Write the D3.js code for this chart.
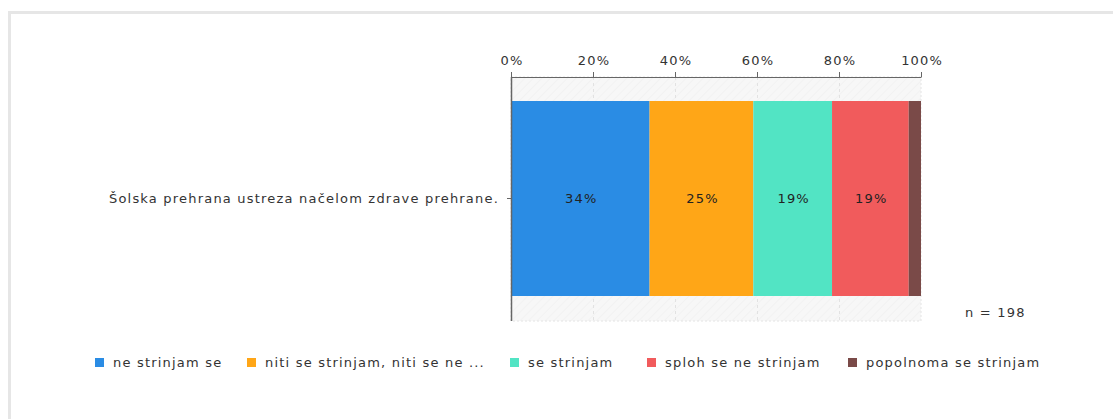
<!DOCTYPE html>
<html>
<head>
<meta charset="utf-8">
<script src="https://cdn.jsdelivr.net/npm/d3@7"></script>
<style>
  body { margin: 0; background: #fff; }
  svg text { font-family: "DejaVu Sans", Verdana, sans-serif; letter-spacing: 1.2px; }
</style>
</head>
<body>
<svg id="chart"></svg>
<script>
// chart data
const question = "Šolska prehrana ustreza načelom zdrave prehrane.";
const categories = ["ne strinjam se", "niti se strinjam, niti se ne ...", "se strinjam", "sploh se ne strinjam", "popolnoma se strinjam"];
const values = [33.8, 25.3, 19.2, 18.7, 3.0]; // percent of n
const barLabels = ["34%", "25%", "19%", "19%", ""];
const colors = ["#2a8ce4", "#ffa617", "#52e4c4", "#f15b5c", "#7a4a48"];
const tickValues = [0, 20, 40, 60, 80, 100];
const nLabel = "n = 198";

const W = 1113, H = 419;
const FS = 13;
const svg = d3.select("#chart").attr("width", W).attr("height", H);

// outer frame (only top and left are visible)
svg.append("rect")
  .attr("x", 9.5).attr("y", 12.5)
  .attr("width", W + 20).attr("height", H + 20)
  .attr("fill", "none")
  .attr("stroke", "#e6e6e6")
  .attr("stroke-width", 3);

const plot = { left: 511, right: 921, top: 77, bottom: 321 };
const barTop = 101, barBottom = 296;

// hatch pattern for plot background
const defs = svg.append("defs");
const pat = defs.append("pattern")
  .attr("id", "hatch")
  .attr("width", 6).attr("height", 6)
  .attr("patternUnits", "userSpaceOnUse")
  .attr("patternTransform", "rotate(45)");
pat.append("rect").attr("width", 6).attr("height", 6).attr("fill", "#f7f7f7");
pat.append("line").attr("x1", 0).attr("y1", 0).attr("x2", 0).attr("y2", 6)
  .attr("stroke", "#eeeeee").attr("stroke-width", 1);

const x = d3.scaleLinear().domain([0, 100]).range([plot.left, plot.right]);
const y = d3.scaleBand().domain([question]).range([barTop, barBottom]);

svg.append("rect")
  .attr("x", plot.left).attr("y", plot.top)
  .attr("width", plot.right - plot.left).attr("height", plot.bottom - plot.top)
  .attr("fill", "url(#hatch)")
  .attr("stroke", "#e4e4e4")
  .attr("stroke-dasharray", "2,2");

// grid lines
svg.append("g").selectAll("line")
  .data(tickValues.slice(1, -1))
  .enter().append("line")
  .attr("x1", d => x(d) + 0.5).attr("x2", d => x(d) + 0.5)
  .attr("y1", plot.top).attr("y2", plot.bottom)
  .attr("stroke", "#e2e2e2")
  .attr("stroke-dasharray", "3,3");

// stacked segments
let acc = 0;
const segs = values.map((v, i) => {
  const s = { start: acc, end: acc + v, value: v, color: colors[i], label: barLabels[i] };
  acc += v;
  return s;
});

svg.append("g").selectAll("rect")
  .data(segs)
  .enter().append("rect")
  .attr("x", d => x(d.start))
  .attr("y", y(question))
  .attr("width", d => x(d.end) - x(d.start))
  .attr("height", y.bandwidth())
  .attr("fill", d => d.color);

svg.append("g").selectAll("text")
  .data(segs.filter(d => d.label))
  .enter().append("text")
  .attr("x", d => (x(d.start) + x(d.end)) / 2 + 1)
  .attr("y", y(question) + y.bandwidth() / 2)
  .attr("dy", "0.35em")
  .attr("text-anchor", "middle")
  .attr("font-size", FS)
  .attr("fill", "#222")
  .text(d => d.label);

// top axis
const xAxis = svg.append("g")
  .attr("transform", `translate(0,${plot.top})`)
  .call(d3.axisTop(x).tickValues(tickValues).tickFormat(d => d + "%").tickSize(5).tickSizeOuter(0));
xAxis.select(".domain").attr("stroke", "#666");
xAxis.selectAll(".tick line").attr("stroke", "#666");
xAxis.selectAll(".tick text")
  .attr("font-family", "DejaVu Sans, sans-serif")
  .attr("font-size", FS)
  .attr("fill", "#333")
  .attr("dx", "0.6")
  .attr("dy", "-0.3em");

// left axis
const yAxis = svg.append("g")
  .attr("transform", `translate(${plot.left},0)`)
  .call(d3.axisLeft(y).tickSize(4).tickSizeOuter(0));
yAxis.select(".domain").attr("stroke", "none");
yAxis.selectAll(".tick line").attr("stroke", "#666");
yAxis.selectAll(".tick text")
  .attr("font-family", "DejaVu Sans, sans-serif")
  .attr("font-size", FS)
  .attr("fill", "#333")
  .attr("x", -12);
svg.append("line")
  .attr("x1", plot.left + 0.5).attr("x2", plot.left + 0.5)
  .attr("y1", plot.top).attr("y2", plot.bottom)
  .attr("stroke", "#666").attr("stroke-width", 1.5);

// n label
svg.append("text")
  .attr("x", 965).attr("y", 317)
  .attr("font-size", FS)
  .attr("fill", "#333")
  .text(nLabel);

// legend
const legendX = [95, 247, 510, 647, 848];
const legend = svg.append("g").selectAll("g")
  .data(categories)
  .enter().append("g")
  .attr("transform", (d, i) => `translate(${legendX[i]},358)`);
legend.append("rect")
  .attr("width", 9).attr("height", 9)
  .attr("fill", (d, i) => colors[i]);
legend.append("text")
  .attr("x", 18).attr("y", 9)
  .attr("font-size", FS)
  .attr("fill", "#333")
  .text(d => d);
</script>
</body>
</html>
